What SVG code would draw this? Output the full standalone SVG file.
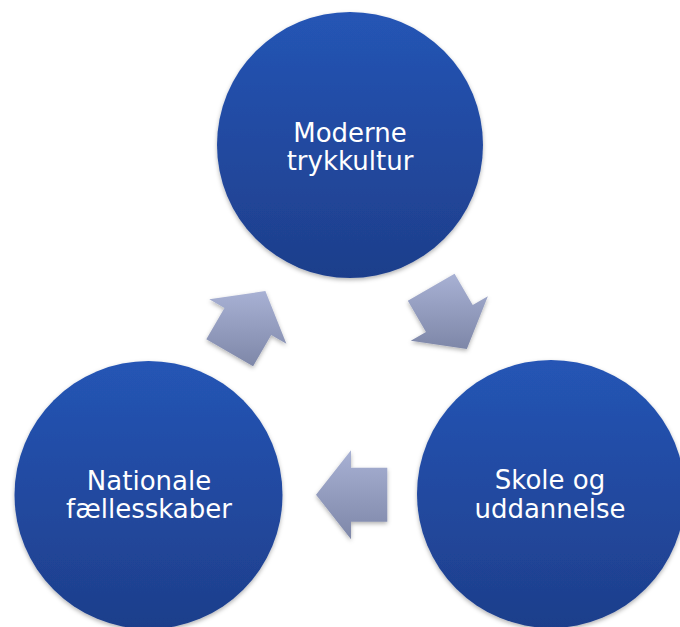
<svg xmlns="http://www.w3.org/2000/svg" width="680" height="627" viewBox="0 0 680 627">
<style>
.lbl{font-family:"DejaVu Sans","Verdana",sans-serif;font-size:26px;fill:#ffffff;text-anchor:middle}
.node{fill:url(#gBlue);filter:url(#sh)}
.arr{fill:url(#gArr);filter:url(#sh)}
</style>
<defs>
<linearGradient id="gBlue" x1="0" y1="0" x2="0" y2="1">
<stop offset="0" stop-color="#2555b5"/>
<stop offset="1" stop-color="#1e3e8b"/>
</linearGradient>
<linearGradient id="gArr" x1="0" y1="0" x2="0" y2="1">
<stop offset="0" stop-color="#a8b1d4"/>
<stop offset="1" stop-color="#7e87a8"/>
</linearGradient>
<filter id="sh" x="-20%" y="-20%" width="140%" height="140%">
<feDropShadow dx="0" dy="2" stdDeviation="2" flood-color="#000000" flood-opacity="0.3"/>
</filter>
</defs>
<rect width="680" height="627" fill="#ffffff"/>
<g id="connectors">
<polygon class="arr" points="265.35,291.08 286.39,343.64 271.23,334.89 253.08,366.33 206.32,339.33 224.47,307.89 209.31,299.14"/>
<polygon class="arr" points="466.85,348.92 410.81,340.86 425.97,332.11 407.82,300.67 454.58,273.67 472.73,305.11 487.89,296.36"/>
<polygon class="arr" points="316,494.7 351,450.2 351,467.7 387.3,467.7 387.3,521.7 351,521.7 351,539.2"/>
</g>
<g id="node-moderne">
<circle class="node" cx="350" cy="145" r="133"/>
<text class="lbl" x="350" y="141.5">Moderne</text>
<text class="lbl" x="350" y="170">trykkultur</text>
</g>
<g id="node-skole">
<circle class="node" cx="551" cy="494" r="134"/>
<text class="lbl" x="550" y="489">Skole og</text>
<text class="lbl" x="550" y="518">uddannelse</text>
</g>
<g id="node-nationale">
<circle class="node" cx="148.5" cy="495" r="134"/>
<text class="lbl" x="149" y="489.5">Nationale</text>
<text class="lbl" x="149" y="518">fællesskaber</text>
</g>
</svg>
